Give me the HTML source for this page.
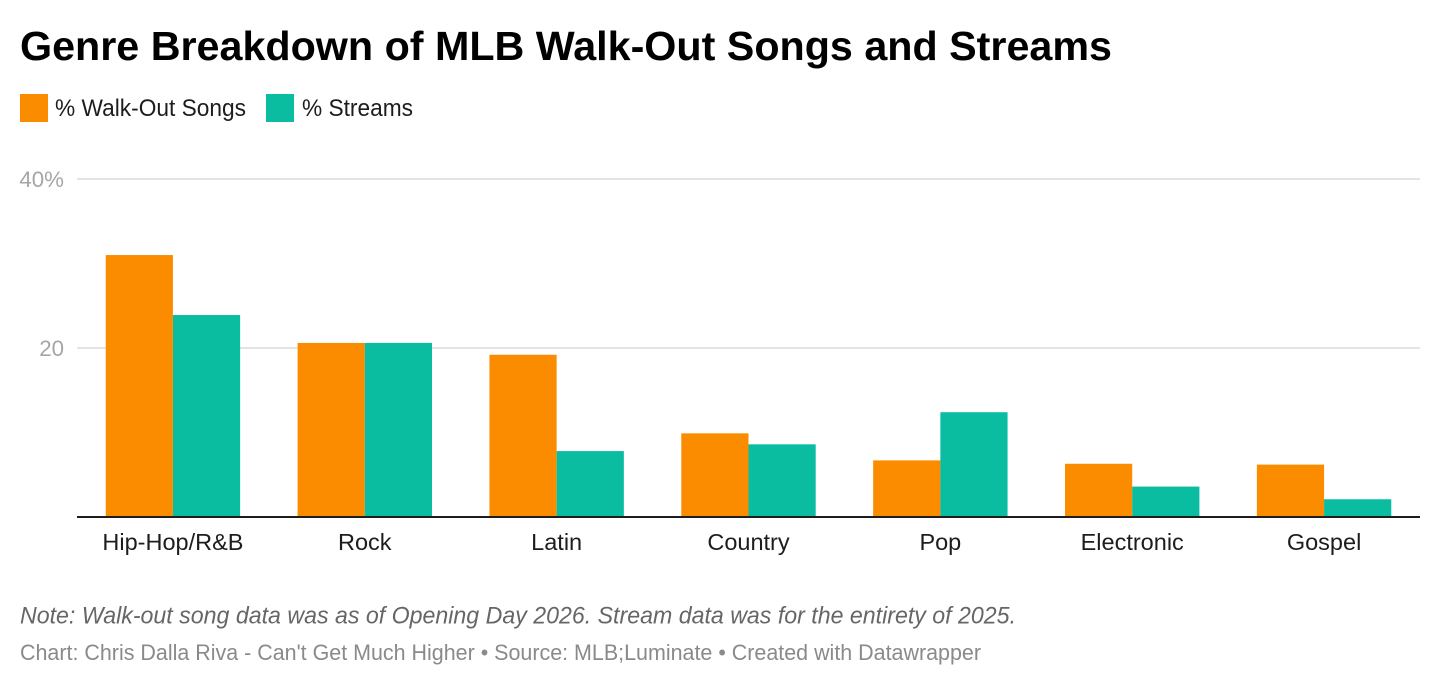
<!DOCTYPE html>
<html lang="en">
<head>
<meta charset="utf-8">
<title>Genre Breakdown of MLB Walk-Out Songs and Streams</title>
<style>
html,body{margin:0;padding:0;background:#fff;width:1440px;height:686px;overflow:hidden}
svg{display:block}
text{font-family:"Liberation Sans",Arial,sans-serif}
</style>
</head>
<body>
<svg id="chart" width="1440" height="686" viewBox="0 0 1440 686">
  <text x="20" y="60" font-size="41" font-weight="700" fill="#000" textLength="1092" lengthAdjust="spacingAndGlyphs">Genre Breakdown of MLB Walk-Out Songs and Streams</text>

  <g>
    <rect x="20" y="94" width="28" height="28" fill="#fb8c00"></rect>
    <text x="55" y="116" font-size="24" fill="#1d1d1d" textLength="191" lengthAdjust="spacingAndGlyphs">% Walk-Out Songs</text>
    <rect x="266" y="94" width="28" height="28" fill="#0abca0"></rect>
    <text x="302" y="116" font-size="24" fill="#1d1d1d" textLength="111" lengthAdjust="spacingAndGlyphs">% Streams</text>
  </g>

  <g id="grid"></g>
  <g id="bars"></g>
  <line x1="77" x2="1420" y1="517" y2="517" stroke="#1d1d1d" stroke-width="2"></line>
  <g id="xlabels"></g>

  <text x="20" y="623.5" font-size="24" font-style="italic" fill="#666" textLength="996" lengthAdjust="spacingAndGlyphs">Note: Walk-out song data was as of Opening Day 2026. Stream data was for the entirety of 2025.</text>
  <text x="20" y="660" font-size="22" fill="#8a8a8a" textLength="961" lengthAdjust="spacingAndGlyphs">Chart: Chris Dalla Riva - Can't Get Much Higher • Source: MLB;Luminate • Created with Datawrapper</text>
</svg>
<script>
const categories = ["Hip-Hop/R&B", "Rock", "Latin", "Country", "Pop", "Electronic", "Gospel"];
const walkOutSongs = [31.0, 20.6, 19.2, 9.9, 6.7, 6.3, 6.2];
const streams = [23.9, 20.6, 7.8, 8.6, 12.4, 3.6, 2.1];
const yTicks = [20, 40];
const yTickLabels = ["20", "40%"];

const NS = "http://www.w3.org/2000/svg";
const plotLeft = 77, plotRight = 1420, plotZero = 517, pxPerUnit = 8.45, barWidth = 67.2;
const yScale = v => plotZero - v * pxPerUnit;
const xCenter = i => plotLeft + (plotRight - plotLeft) / categories.length * (i + 0.5);

function make(tag, attrs, parent) {
  const el = document.createElementNS(NS, tag);
  for (const k in attrs) el.setAttribute(k, attrs[k]);
  parent.appendChild(el);
  return el;
}

const grid = document.getElementById("grid");
yTicks.forEach((t, i) => {
  const line = make("line", {x1: plotLeft, x2: plotRight, y1: yScale(t), y2: yScale(t), stroke: "#e4e4e4", "stroke-width": 2}, grid);
  
  
  const label = make("text", {x: 64, y: yScale(t) + 8, "font-size": 22.3, fill: "#a6a6a6", "text-anchor": "end"}, grid);
  
  
  label.textContent = yTickLabels[i];
});

const bars = document.getElementById("bars");
const xlabels = document.getElementById("xlabels");
categories.forEach((c, i) => {
  const cx = xCenter(i);
  const h1 = walkOutSongs[i] * pxPerUnit;
  const b1 = make("rect", {x: cx - barWidth, y: yScale(walkOutSongs[i]), width: barWidth, height: h1, fill: "#fb8c00"}, bars);
  
  
  const h2 = streams[i] * pxPerUnit;
  const b2 = make("rect", {x: cx, y: yScale(streams[i]), width: barWidth, height: h2, fill: "#0abca0"}, bars);
  
  
  const label = make("text", {x: cx, y: 550, "font-size": 23.5, fill: "#1d1d1d", "text-anchor": "middle"}, xlabels);
  
  
  label.textContent = c;
});
</script>
</body>
</html>
